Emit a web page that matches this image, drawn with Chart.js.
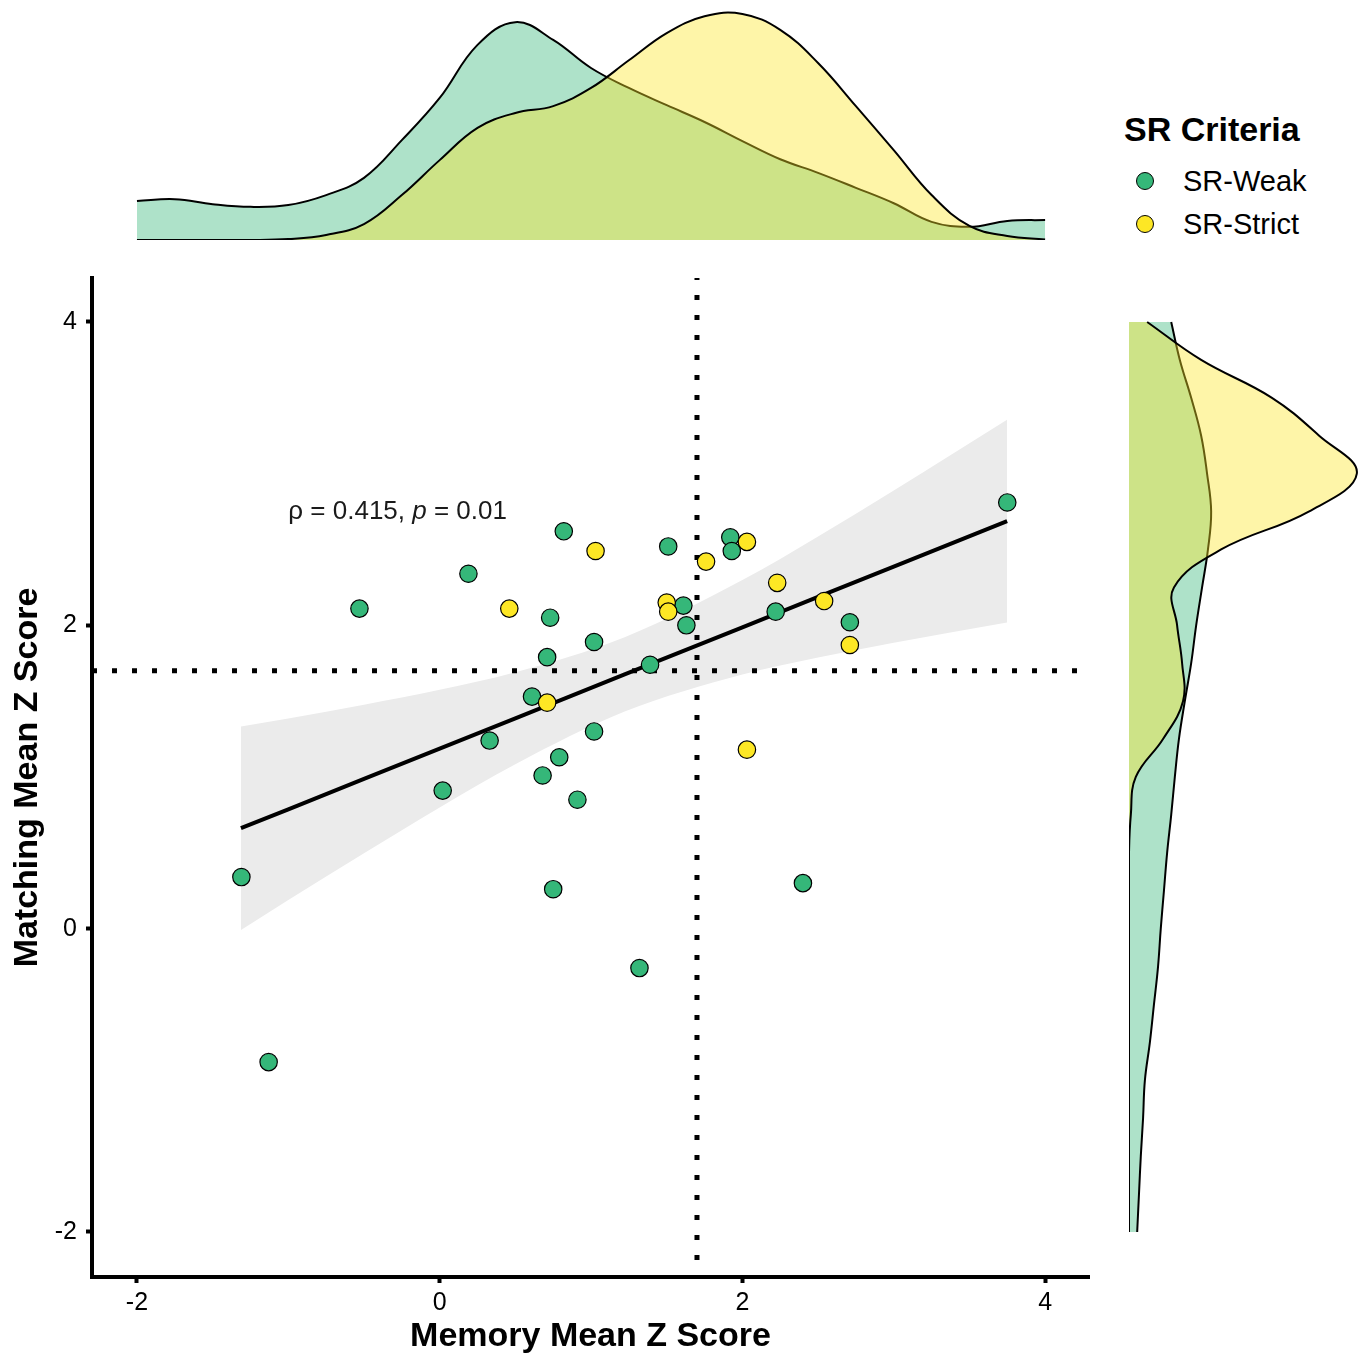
<!DOCTYPE html>
<html>
<head>
<meta charset="utf-8">
<script src="https://cdn.jsdelivr.net/npm/chart.js@4.4.1/dist/chart.umd.min.js"></script>
<style>
  body { margin: 0; background: #fff; }
  #wrap { position: relative; width: 1366px; height: 1354px; overflow: hidden;
          font-family: 'Liberation Sans', Arial, sans-serif; }
  canvas { position: absolute; }
  .lg { position: absolute; white-space: nowrap; color: #000; }
  .lg-title { font-size: 34px; font-weight: bold; line-height: 40px; }
  .lg-label { font-size: 29px; line-height: 34px; }
  .lg-dot { position: absolute; width: 16px; height: 16px; border: 1.2px solid #000; border-radius: 50%; }
</style>
</head>
<body>
<div id="wrap">
  <canvas id="topDens" width="1100" height="250" style="left:0;top:0"></canvas>
  <canvas id="main" width="1100" height="1104" style="left:0;top:250px"></canvas>
  <canvas id="rightDens" width="266" height="1104" style="left:1100px;top:250px"></canvas>
  <div id="legend"></div>
</div>
<script>
// 散布図のデータ
const seriesNames = ['SR-Weak', 'SR-Strict'];
const seriesColors = ['#35B779', '#FDE725'];
const densFills = ['rgba(53,183,121,0.4)', 'rgba(253,231,37,0.4)'];

const weakX = [-1.31, -1.13, -0.53, 0.02, 0.19, 0.33, 0.61, 0.68, 0.71, 0.73, 0.75, 0.79, 0.82, 0.91, 1.02, 1.02, 1.32, 1.39, 1.51, 1.61, 1.63, 1.92, 1.93, 2.22, 2.40, 2.71, 3.75];
const weakY = [0.34, -0.88, 2.11, 0.91, 2.34, 1.24, 1.53, 1.01, 1.79, 2.05, 0.26, 1.13, 2.62, 0.85, 1.89, 1.30, -0.26, 1.74, 2.52, 2.13, 2.00, 2.58, 2.49, 2.09, 0.30, 2.02, 2.81];
const strictX = [0.46, 0.71, 1.03, 1.50, 1.51, 1.76, 2.03, 2.03, 2.23, 2.54, 2.71];
const strictY = [2.11, 1.49, 2.49, 2.15, 2.09, 2.42, 2.55, 1.18, 2.28, 2.16, 1.87];

// 回帰直線と信頼区間
const bandX     = [-1.313, -1.0, -0.5, 0.0, 0.5, 1.222, 2.0, 2.5, 3.0, 3.749];
const fitY      = [0.662, 0.787, 0.987, 1.187, 1.387, 1.676, 1.987, 2.187, 2.387, 2.687];
const bandUpper = [1.333, 1.386, 1.477, 1.575, 1.690, 1.921, 2.298, 2.586, 2.889, 3.356];
const bandLower = [-0.009, 0.188, 0.497, 0.799, 1.084, 1.431, 1.676, 1.788, 1.885, 2.018];

// 基準線
const refCut = 1.7;

// 軸
const xMin = -2.297, xMax = 4.29;
const yMin = -2.297, yMax = 4.29;
const xTicks = [-2, 0, 2, 4];
const yTicks = [-2, 0, 2, 4];
const xTitle = 'Memory Mean Z Score';
const yTitle = 'Matching Mean Z Score';

// 注記
const annX = -1.0, annY = 2.75;
const statParts = [{ text: 'ρ = 0.415, ' }, { text: 'p', italic: true }, { text: ' = 0.01' }];

// 周辺密度（上：Memory、右：Matching）
const topGrid = [-2, -1.75, -1.5, -1.25, -1, -0.75, -0.5, -0.25, 0, 0.25, 0.5, 0.75, 1, 1.25, 1.5, 1.75, 2, 2.25, 2.5, 2.75, 3, 3.25, 3.5, 3.75, 4];
const topWeak = [0.086, 0.090, 0.079, 0.073, 0.077, 0.099, 0.137, 0.220, 0.313, 0.430, 0.480, 0.441, 0.379, 0.335, 0.297, 0.260, 0.218, 0.178, 0.148, 0.115, 0.081, 0.040, 0.029, 0.042, 0.044];
const topStrict = [0, 0, 0, 0, 0.002, 0.011, 0.035, 0.099, 0.176, 0.247, 0.280, 0.295, 0.335, 0.396, 0.456, 0.493, 0.498, 0.463, 0.390, 0.295, 0.198, 0.099, 0.031, 0.009, 0.001];

const rightGrid = [-2, -1.75, -1.5, -1.25, -1, -0.75, -0.5, -0.25, 0, 0.25, 0.5, 0.75, 1, 1.25, 1.5, 1.75, 2, 2.25, 2.5, 2.75, 3, 3.25, 3.5, 3.75, 4];
const rightWeak = [0.018, 0.022, 0.026, 0.031, 0.035, 0.046, 0.055, 0.064, 0.070, 0.077, 0.084, 0.093, 0.101, 0.110, 0.123, 0.137, 0.148, 0.161, 0.174, 0.181, 0.172, 0.159, 0.137, 0.112, 0.093];
const rightStrict = [0, 0, 0, 0, 0, 0, 0, 0, 0, 0, 0, 0.004, 0.015, 0.075, 0.119, 0.117, 0.106, 0.099, 0.203, 0.396, 0.502, 0.419, 0.315, 0.159, 0.040];
const densMax = 0.52;

Chart.defaults.font.family = "'Liberation Sans', Arial, sans-serif";
Chart.defaults.animation = false;

const pts = (xs, ys) => xs.map((x, i) => ({ x: x, y: ys[i] }));

// 注記テキストを描くプラグイン
const statLabel = {
    id: 'statLabel',
    afterDatasetsDraw(chart) {
        const { ctx, scales: { x, y } } = chart;
        let cx = x.getPixelForValue(annX);
        const cy = y.getPixelForValue(annY);
        ctx.save();
        ctx.fillStyle = '#1a1a1a';
        ctx.textBaseline = 'middle';
        ctx.textAlign = 'left';
        statParts.forEach(part => {
            ctx.font = (part.italic ? 'italic ' : '') + "26px 'Liberation Sans', Arial, sans-serif";
            ctx.fillText(part.text, cx, cy);
            cx += ctx.measureText(part.text).width;
        });
        ctx.restore();
    }
};

const axisGrid = { drawOnChartArea: false, drawTicks: true, tickLength: 6, tickWidth: 4, tickColor: '#000' };

// メインの散布図
new Chart(document.getElementById('main'), {
    type: 'scatter',
    data: {
        datasets: [
            { label: 'ci-upper', data: pts(bandX, bandUpper), showLine: true, borderWidth: 0, pointRadius: 0,
              fill: '+1', backgroundColor: '#EBEBEB', cubicInterpolationMode: 'monotone', order: 6 },
            { label: 'ci-lower', data: pts(bandX, bandLower), showLine: true, borderWidth: 0, pointRadius: 0,
              fill: false, cubicInterpolationMode: 'monotone', order: 5 },
            { label: 'fit', data: pts(bandX, fitY), showLine: true, borderColor: '#000', borderWidth: 4,
              pointRadius: 0, tension: 0, order: 4 },
            { label: 'cut-x', data: [{ x: refCut, y: yMax }, { x: refCut, y: yMin }], showLine: true,
              borderColor: '#000', borderWidth: 5, borderDash: [5, 15], borderDashOffset: 3, pointRadius: 0, order: 3 },
            { label: 'cut-y', data: [{ x: xMin, y: refCut }, { x: xMax, y: refCut }], showLine: true,
              borderColor: '#000', borderWidth: 5, borderDash: [5, 15], borderDashOffset: 0, pointRadius: 0, order: 3 },
            { label: seriesNames[0], data: pts(weakX, weakY), pointRadius: 8.7, pointBorderWidth: 1.2,
              pointBackgroundColor: seriesColors[0], pointBorderColor: '#000', order: 1 },
            { label: seriesNames[1], data: pts(strictX, strictY), pointRadius: 8.7, pointBorderWidth: 1.2,
              pointBackgroundColor: seriesColors[1], pointBorderColor: '#000', order: 0 }
        ]
    },
    options: {
        responsive: false,
        events: [],
        layout: { padding: { top: 28, right: 11, left: 0, bottom: 0 } },
        plugins: { legend: { display: false }, tooltip: { enabled: false } },
        scales: {
            x: {
                type: 'linear', min: xMin, max: xMax,
                afterBuildTicks: s => { s.ticks = xTicks.map(v => ({ value: v })); },
                afterFit: s => { s.height = 77; },
                ticks: { callback: v => String(v), color: '#000', font: { size: 25 }, padding: 5, maxRotation: 0 },
                grid: axisGrid,
                border: { display: true, color: '#000', width: 4 },
                title: { display: true, text: xTitle, color: '#000',
                         font: { size: 34, weight: 'bold', lineHeight: 1 }, padding: { top: 0, bottom: 0 } }
            },
            y: {
                type: 'linear', min: yMin, max: yMax,
                afterBuildTicks: s => { s.ticks = yTicks.map(v => ({ value: v })); },
                afterFit: s => { s.width = 92; },
                ticks: { callback: v => String(v), color: '#000', font: { size: 25 }, padding: 9 },
                grid: axisGrid,
                border: { display: true, color: '#000', width: 4 },
                title: { display: true, text: yTitle, color: '#000',
                         font: { size: 34, weight: 'bold', lineHeight: 1 }, padding: { top: 11, bottom: 0 } }
            }
        }
    },
    plugins: [statLabel]
});

// 上側の密度
new Chart(document.getElementById('topDens'), {
    type: 'line',
    data: {
        datasets: [
            { label: seriesNames[0], data: pts(topGrid, topWeak), fill: 'origin', backgroundColor: densFills[0],
              borderColor: '#000', borderWidth: 2, pointRadius: 0, tension: 0.4, order: 1 },
            { label: seriesNames[1], data: pts(topGrid, topStrict), fill: 'origin', backgroundColor: densFills[1],
              borderColor: '#000', borderWidth: 2, pointRadius: 0, tension: 0.4, order: 0 }
        ]
    },
    options: {
        responsive: false,
        events: [],
        layout: { padding: { left: 92, right: 11, top: 4, bottom: 10 } },
        plugins: { legend: { display: false }, tooltip: { enabled: false } },
        scales: {
            x: { type: 'linear', min: xMin, max: xMax, display: false },
            y: { type: 'linear', min: 0, max: densMax, display: false }
        }
    }
});

// 右側の密度
new Chart(document.getElementById('rightDens'), {
    type: 'line',
    data: {
        datasets: [
            { label: seriesNames[0], data: pts(rightWeak, rightGrid), fill: 'origin', backgroundColor: densFills[0],
              borderColor: '#000', borderWidth: 2, pointRadius: 0, tension: 0.4, order: 1 },
            { label: seriesNames[1], data: pts(rightStrict, rightGrid), fill: 'origin', backgroundColor: densFills[1],
              borderColor: '#000', borderWidth: 2, pointRadius: 0, tension: 0.4, order: 0 }
        ]
    },
    options: {
        responsive: false,
        events: [],
        indexAxis: 'y',
        layout: { padding: { left: 29, right: 1, top: 28, bottom: 77 } },
        plugins: { legend: { display: false }, tooltip: { enabled: false } },
        scales: {
            x: { type: 'linear', min: 0, max: densMax, display: false },
            y: { type: 'linear', min: yMin, max: yMax, display: false }
        }
    }
});

// 凡例
const legend = document.getElementById('legend');
let html = '<div class="lg lg-title" style="left:1124px;top:109px">SR Criteria</div>';
seriesNames.forEach((name, i) => {
    const cy = 181 + i * 43;
    html += `<div class="lg-dot" style="left:1136px;top:${cy - 9}px;background:${seriesColors[i]}"></div>`;
    html += `<div class="lg lg-label" style="left:1183px;top:${cy - 17}px">${name}</div>`;
});
legend.innerHTML = html;
</script>
</body>
</html>
